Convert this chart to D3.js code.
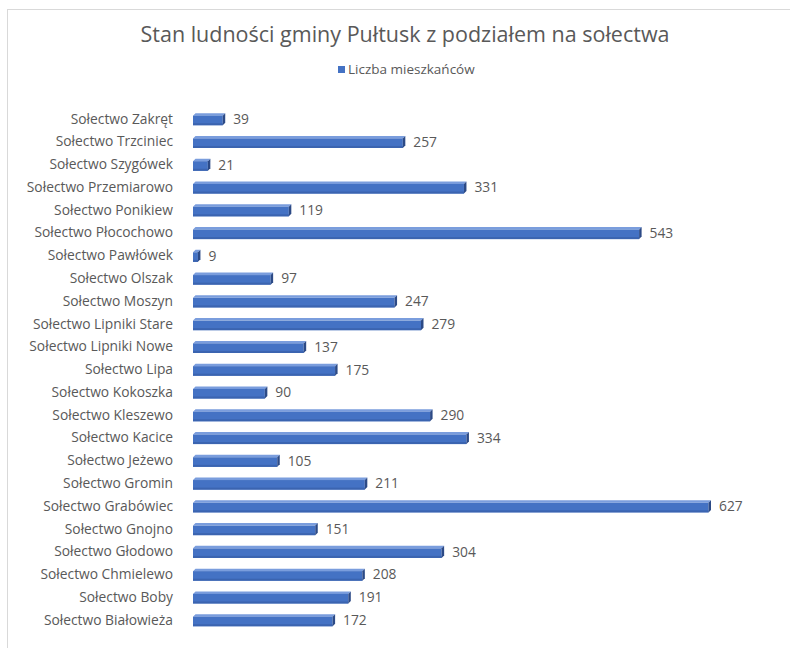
<!DOCTYPE html>
<html>
<head>
<meta charset="utf-8">
<script src="https://cdn.jsdelivr.net/npm/d3@7"></script>
<style>
  body { margin: 0; background: #fff; }
  svg { display: block; font-family: "Open Sans", sans-serif; }
  .cat-label, .val-label { fill: #595959; font-size: 13.8px; }
  .title { fill: #595959; font-size: 21.5px; }
  .legend-text { fill: #595959; font-size: 13.5px; }
</style>
</head>
<body>
<script>
const categories = [
  "Sołectwo Zakręt", "Sołectwo Trzciniec", "Sołectwo Szygówek", "Sołectwo Przemiarowo",
  "Sołectwo Ponikiew", "Sołectwo Płocochowo", "Sołectwo Pawłówek", "Sołectwo Olszak",
  "Sołectwo Moszyn", "Sołectwo Lipniki Stare", "Sołectwo Lipniki Nowe", "Sołectwo Lipa",
  "Sołectwo Kokoszka", "Sołectwo Kleszewo", "Sołectwo Kacice", "Sołectwo Jeżewo",
  "Sołectwo Gromin", "Sołectwo Grabówiec", "Sołectwo Gnojno", "Sołectwo Głodowo",
  "Sołectwo Chmielewo", "Sołectwo Boby", "Sołectwo Białowieża"
];
const residents = [39, 257, 21, 331, 119, 543, 9, 97, 247, 279, 137, 175, 90, 290, 334, 105, 211, 627, 151, 304, 208, 191, 172];
const seriesName = "Liczba mieszkańców";
const titleText = "Stan ludności gminy Pułtusk z podziałem na sołectwa";

const width = 790, height = 648;
const plotLeft = 193, plotRight = 711;
const depth = 2.5;

const svg = d3.select("body").append("svg")
  .attr("width", width)
  .attr("height", height);

// chart area border (runs off the right and bottom of the picture)
svg.append("rect")
  .attr("x", 7.5).attr("y", 9.5)
  .attr("width", 800).attr("height", 700)
  .attr("fill", "none")
  .attr("stroke", "#d9d9d9");

svg.append("text")
  .attr("class", "title")
  .attr("x", 405).attr("y", 42)
  .attr("text-anchor", "middle")
  .text(titleText);

let legend = svg.append("g").attr("transform", "translate(338,66)");
legend.append("rect")
  .attr("width", 7).attr("height", 7)
  .attr("fill", "#4472c4");
legend.append("text")
  .attr("class", "legend-text")
  .attr("x", 10).attr("y", 8)
  .text(seriesName);

const x = d3.scaleLinear()
  .domain([0, 627])
  .range([plotLeft, plotRight]);

const y = d3.scaleBand()
  .domain(categories)
  .range([107.8, 631.6])
  .paddingInner(0.47)
  .paddingOuter(0.235);

const data = categories.map((c, i) => ({ name: c, value: residents[i] }));

const bars = svg.append("g")
  .selectAll("g")
  .data(data)
  .join("g");

const bh = y.bandwidth();

// top face
bars.append("path")
  .attr("fill", "#7a9ddd")
  .attr("d", d => {
    let y0 = y(d.name) + depth, x0 = x(0), x1 = x(d.value) - depth;
    return `M${x0},${y0}L${x0 + depth},${y0 - depth}L${x1 + depth},${y0 - depth}L${x1},${y0}Z`;
  });

// front face
bars.append("rect")
  .attr("x", x(0))
  .attr("y", d => y(d.name) + depth)
  .attr("width", d => Math.max(1, x(d.value) - depth - x(0)))
  .attr("height", bh - depth)
  .attr("fill", "#4472c4");

// lower shading of front face
bars.append("rect")
  .attr("x", x(0))
  .attr("y", d => y(d.name) + bh - 2)
  .attr("width", d => Math.max(1, x(d.value) - depth - x(0)))
  .attr("height", 2)
  .attr("fill", "#3b64b0");

// side face
bars.append("path")
  .attr("fill", "#2c4a86")
  .attr("d", d => {
    let y0 = y(d.name) + depth, x1 = x(d.value) - depth;
    return `M${x1},${y0}L${x1 + depth},${y0 - depth}L${x1 + depth},${y0 + bh - 2 * depth}L${x1},${y0 + bh - depth}Z`;
  });

bars.append("text")
  .attr("class", "val-label")
  .attr("x", d => x(d.value) + 8)
  .attr("y", d => y(d.name) + bh / 2)
  .attr("dy", "0.35em")
  .text(d => d.value);

const yAxis = d3.axisLeft(y).tickSize(0).tickPadding(0);
svg.append("g")
  .attr("transform", `translate(173,0)`)
  .call(yAxis)
  .attr("font-family", null)
  .attr("font-size", null)
  .call(g => g.select(".domain").remove())
  .call(g => g.selectAll("text")
    .attr("class", "cat-label")
    .attr("fill", null));
</script>
</body>
</html>
